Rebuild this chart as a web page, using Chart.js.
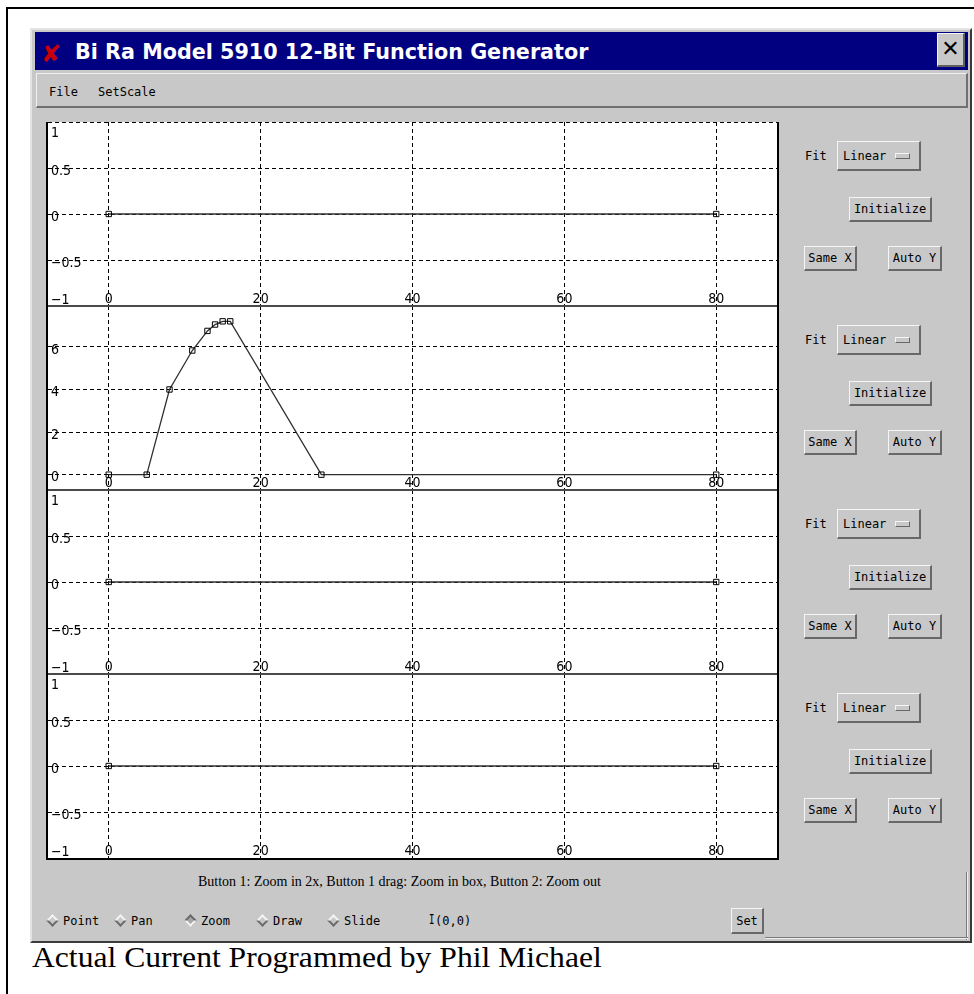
<!DOCTYPE html>
<html>
<head>
<meta charset="utf-8">
<script src="https://cdn.jsdelivr.net/npm/chart.js@4.4.1/dist/chart.umd.min.js"></script>
<style>
  body { margin: 0; background: #fff; width: 974px; height: 994px; position: relative; overflow: hidden; }
  .abs { position: absolute; box-sizing: border-box; }
  #frame { left: 6px; top: 7px; width: 990px; height: 1000px; border-left: 2px solid #000; border-top: 2px solid #000; }
  #win { left: 30px; top: 28px; width: 942px; height: 915px; background: #c8c8c8;
         border-top: 2px solid #e4e4e4; border-left: 2px solid #e4e4e4; border-right: 2px solid #3a3a3a; border-bottom: 2px solid #3a3a3a; }
  #titlebar { left: 35px; top: 32px; width: 933px; height: 38px; background: #000080; }
  #title { left: 75px; top: 40px; line-height: 26px; color: #fff; font: bold 20.7px "DejaVu Sans", sans-serif; white-space: nowrap; }
  #redx { left: 41px; top: 40px; line-height: 26px; color: #c8000a; font: bold 24px "DejaVu Sans", sans-serif; }
  #close { left: 937px; top: 33px; width: 28px; height: 34px; background: #c8c8c8;
           border-top: 1px solid #f4f4f4; border-left: 1px solid #f4f4f4; border-right: 2px solid #606060; border-bottom: 2px solid #606060;
           font: 22px "DejaVu Sans", sans-serif; text-align: center; line-height: 30px; color: #000; }
  #menubar { left: 36px; top: 73px; width: 932px; height: 35px;
             border-top: 1px solid #f0f0f0; border-left: 1px solid #f0f0f0; border-right: 2px solid #707070; border-bottom: 2px solid #707070; }
  .mono { font: 12px "DejaVu Sans Mono", monospace; color: #000; white-space: nowrap; }
  #plot { left: 46px; top: 122px; width: 733px; height: 738px; background: #fff;
          border-left: 2px solid #000; border-right: 2px solid #000; border-bottom: 2px solid #000; }
  #plot canvas { position: absolute; left: 0; }
  .divider { left: 48px; width: 729px; height: 2px; background: #4a4a4a; }
  .btn { background: #c8c8c8; border-top: 1px solid #f6f6f6; border-left: 1px solid #f6f6f6;
         border-right: 2px solid #686868; border-bottom: 2px solid #686868;
         display: flex; align-items: center; justify-content: center; }
  .ind { width: 15px; height: 6px; background: #c8c8c8; border-top: 1px solid #f6f6f6; border-left: 1px solid #f6f6f6;
         border-right: 1px solid #686868; border-bottom: 1px solid #686868; box-sizing: border-box; }
  #status { left: 198px; top: 874px; font: 14px "Liberation Serif", serif; color: #000; white-space: nowrap; line-height: 16px; }
  .dia { width: 9px; height: 9px; transform: rotate(45deg); background: #c8c8c8;
         border-top: 2px solid #f4f4f4; border-left: 2px solid #f4f4f4; border-right: 2px solid #6a6a6a; border-bottom: 2px solid #6a6a6a; }
  .dia.on { border-top-color: #6a6a6a; border-left-color: #6a6a6a; border-right-color: #f4f4f4; border-bottom-color: #f4f4f4; background: #a8a8a8; }
  #sunkv { left: 966px; top: 872px; width: 2px; height: 68px; border-left: 1px solid #7a7a7a; border-right: 1px solid #eeeeee; }
  #sunkh { left: 765px; top: 937px; width: 203px; height: 2px; border-top: 1px solid #7a7a7a; border-bottom: 1px solid #eeeeee; }
  #caption { left: 32px; top: 943px; font: 29px "Liberation Serif", "Times New Roman", serif; line-height: 29px; color: #000;
             white-space: nowrap; transform: scaleX(1.09); transform-origin: left top; }
</style>
</head>
<body>
<div id="frame" class="abs"></div>
<div id="win" class="abs"></div>
<div id="titlebar" class="abs"></div>
<div id="redx" class="abs">&#x2718;</div>
<div id="title" class="abs">Bi Ra Model 5910 12-Bit Function Generator</div>
<div id="close" class="abs">&#x2715;</div>
<div id="menubar" class="abs"></div>
<div class="abs mono" style="left:49px; top:85px;">File</div>
<div class="abs mono" style="left:98px; top:85px;">SetScale</div>
<div id="plot" class="abs"></div>
<div id="status" class="abs">Button 1: Zoom in 2x, Button 1 drag: Zoom in box, Button 2: Zoom out</div>
<div id="radios"></div>
<div class="abs mono" style="left:429px; top:914px; font-size:9px; transform:scaleY(1.6);">I</div>
<div class="abs mono" style="left:435px; top:914px;">(0,0)</div>
<div class="abs btn mono" style="left:731px; top:908px; width:33px; height:26px;">Set</div>
<div id="sunkv" class="abs"></div>
<div id="sunkh" class="abs"></div>
<div id="caption" class="abs">Actual Current Programmed by Phil Michael</div>

<script>
// x range shared by all four channels
const xMin = -8;
const xMax = 88;
const xTicks = [0, 20, 40, 60, 80];

// y tick sets
const unitTicks = [-1, -0.5, 0, 0.5, 1];
const currentTicks = [0, 2, 4, 6];

// channel data (x = time step, y = value)
const ch1X = [0, 80];
const ch1Y = [0, 0];
const ch2X = [0, 5, 8, 11, 13, 14, 15, 16, 28, 80];
const ch2Y = [0, 0, 4, 5.83, 6.75, 7.05, 7.2, 7.2, 0, 0];
const ch3X = [0, 80];
const ch3Y = [0, 0];
const ch4X = [0, 80];
const ch4Y = [0, 0];

const radioLabels = ['Point', 'Pan', 'Zoom', 'Draw', 'Slide'];
const radioSelected = 'Zoom';

const panelH = 184;
const panelW = 729;
const plotTop = 122;
const labelFont = '14px "Liberation Sans Narrow", "DejaVu Sans Condensed", "Liberation Sans", sans-serif';

function fmt(v) {
  return v < 0 ? '\u2212' + String(-v) : String(v);
}

// y range like the "Auto Y" of the original: 10% pad around the data, or -1..1 when flat
function yRange(ys) {
  const lo = Math.min(...ys);
  const hi = Math.max(...ys);
  if (hi === lo) {
    return { min: lo - 1, max: hi + 1 };
  }
  const pad = (hi - lo) * 0.1;
  return { min: lo - pad, max: hi + pad };
}

const insideLabels = {
  id: 'insideLabels',
  afterDraw(chart) {
    const { ctx, chartArea, scales } = chart;
    ctx.save();
    ctx.font = labelFont;
    ctx.fillStyle = '#000';
    ctx.textBaseline = 'middle';
    ctx.textAlign = 'left';
    scales.y.ticks.forEach((t) => {
      let py = scales.y.getPixelForValue(t.value) + 3;
      py = Math.max(chartArea.top + 11, Math.min(chartArea.bottom - 6, py));
      ctx.fillText(fmt(t.value), chartArea.left + 3, py);
    });
    ctx.textAlign = 'center';
    scales.x.ticks.forEach((t) => {
      const px = scales.x.getPixelForValue(t.value);
      ctx.fillText(fmt(t.value), px, chartArea.bottom - 7);
    });
    ctx.restore();
  }
};

function makePanel(index, xs, ys, yTicks) {
  const plot = document.getElementById('plot');
  const canvas = document.createElement('canvas');
  canvas.width = panelW;
  canvas.height = panelH;
  canvas.style.top = (index * panelH) + 'px';
  canvas.style.width = panelW + 'px';
  canvas.style.height = panelH + 'px';
  plot.appendChild(canvas);

  const range = yRange(ys);
  const points = xs.map((x, i) => ({ x, y: ys[i] }));

  new Chart(canvas.getContext('2d'), {
    type: 'line',
    data: {
      datasets: [{
        data: points,
        borderColor: '#303030',
        borderWidth: 1.3,
        tension: 0,
        fill: false,
        pointStyle: 'rect',
        pointRadius: 3.8,
        pointBorderWidth: 1,
        pointBorderColor: '#000',
        pointBackgroundColor: 'rgba(0,0,0,0)'
      }]
    },
    options: {
      responsive: false,
      animation: false,
      layout: { padding: 0, autoPadding: false },
      plugins: { legend: { display: false }, tooltip: { enabled: false } },
      scales: {
        x: {
          type: 'linear',
          min: xMin,
          max: xMax,
          afterBuildTicks(scale) { scale.ticks = xTicks.map((v) => ({ value: v })); },
          ticks: { display: false },
          grid: { color: '#000', lineWidth: 1, drawTicks: false },
          border: { display: false, dash: [4, 3] }
        },
        y: {
          type: 'linear',
          min: range.min,
          max: range.max,
          afterBuildTicks(scale) { scale.ticks = yTicks.map((v) => ({ value: v })); },
          ticks: { display: false },
          grid: { color: '#000', lineWidth: 1, drawTicks: false },
          border: { display: false, dash: [4, 3] }
        }
      }
    },
    plugins: [insideLabels]
  });

  const top = plotTop + index * panelH;
  if (index > 0) {
    const d = document.createElement('div');
    d.className = 'abs divider';
    d.style.top = (top - 1) + 'px';
    document.body.appendChild(d);
  }
  addControls(top);
}

function addEl(cls, style, html) {
  const el = document.createElement('div');
  el.className = cls;
  el.style.cssText = style;
  el.innerHTML = html;
  document.body.appendChild(el);
  return el;
}

function addControls(top) {
  addEl('abs mono', `left:805px; top:${top + 27}px;`, 'Fit');
  addEl('abs btn mono', `left:837px; top:${top + 19}px; width:84px; height:30px; justify-content:flex-start; padding-left:5px;`,
    'Linear<span class="ind" style="margin-left:9px;"></span>');
  addEl('abs btn mono', `left:849px; top:${top + 75}px; width:83px; height:25px;`, 'Initialize');
  addEl('abs btn mono', `left:804px; top:${top + 124}px; width:53px; height:25px;`, 'Same X');
  addEl('abs btn mono', `left:888px; top:${top + 124}px; width:54px; height:25px;`, 'Auto Y');
}

function addRadios() {
  const diaX = [47, 115, 185, 257, 328];
  radioLabels.forEach((name, i) => {
    addEl('abs dia' + (name === radioSelected ? ' on' : ''), `left:${diaX[i] + 1}px; top:916px;`, '');
    addEl('abs mono', `left:${diaX[i] + 16}px; top:914px;`, name);
  });
}

makePanel(0, ch1X, ch1Y, unitTicks);
makePanel(1, ch2X, ch2Y, currentTicks);
makePanel(2, ch3X, ch3Y, unitTicks);
makePanel(3, ch4X, ch4Y, unitTicks);
addRadios();
</script>
</body>
</html>
